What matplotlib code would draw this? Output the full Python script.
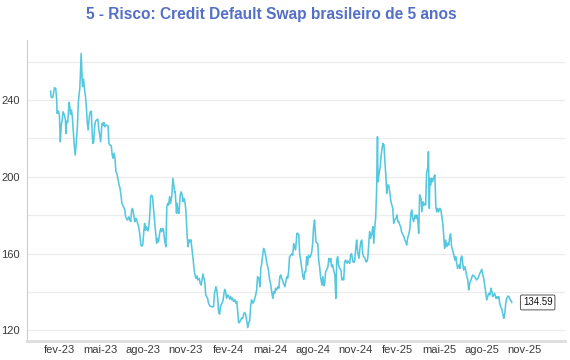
import matplotlib
matplotlib.use("Agg")
import matplotlib.pyplot as plt
import pandas as pd

plt.rcParams['font.family'] = ['Liberation Sans', 'DejaVu Sans']

title = "5 - Risco: Credit Default Swap brasileiro de 5 anos"
start_date = "2023-01-13"

# observation dates as day offsets from start_date
obs_day = [
    0, 1, 4, 6, 8, 11, 13, 14, 17, 19, 21, 23, 25, 27, 30, 32, 33, 35, 37, 40,
    42, 43, 45, 47, 49, 51, 53, 55, 58, 60, 61, 63, 64, 66, 68, 69, 71, 73, 75, 77,
    79, 81, 84, 86, 88, 89, 91, 93, 95, 97, 99, 102, 103, 104, 108, 111, 114, 115, 117, 120,
    124, 126, 128, 131, 133, 135, 137, 139, 141, 143, 146, 148, 150, 152, 154,
    160, 162, 164, 166, 169, 171, 173, 175, 177, 179, 182, 184, 186, 188, 190, 192, 195, 197, 199, 201,
    203, 205, 207, 210, 212, 214, 216, 218, 220, 223, 225, 227, 229, 231, 233, 236, 238, 240, 242, 244,
    246, 249, 251, 253, 255, 257, 259, 262, 264, 266, 268, 269, 272, 273, 275, 277, 280, 282, 284, 286,
    288, 290, 292, 295, 297, 299, 301, 303, 305, 308, 310, 312, 314, 316, 318, 321, 323, 325, 327, 329, 331,
    333, 335, 337, 339, 341, 344, 346, 348, 350, 352, 354, 357, 359, 361, 363, 365, 367, 370, 372, 374,
    376, 378, 380, 383, 385, 387, 389, 391, 393, 395, 398, 400, 402, 404, 406, 408, 411, 413, 415, 417,
    419, 421, 424, 426, 428, 430, 432, 434, 437, 439, 441, 443, 445, 447, 450, 452, 454, 456, 458, 460,
    462, 465, 467, 469, 471, 473,
    475, 478, 480, 482, 484, 486, 488, 491, 493, 495, 497, 499, 501, 503, 506, 508, 510, 512, 514, 516,
    519, 521, 523, 525, 527, 529, 532, 534, 536, 538, 540, 542, 545, 547, 549, 551, 553, 555, 557, 560,
    562, 564, 566, 568, 570, 573, 575, 577, 579, 581, 583, 586, 588, 590, 592, 594, 596, 599, 601, 603,
    605, 607, 609, 612, 614, 616, 618, 620, 622, 624, 627, 629, 631, 633,
    635, 637, 640, 642, 644, 646, 648, 650, 653, 655, 657, 659, 661, 663, 666, 668, 670, 672, 674, 676,
    679, 681, 683, 685, 687, 689, 691, 694, 696, 698, 700, 702, 704, 706, 707, 710, 712, 714, 716, 718,
    720, 722, 724, 726, 728, 730, 733, 735, 737, 739, 741, 743, 746, 748, 750, 752, 754, 756, 758, 761,
    763, 765, 767, 769, 771, 774, 776, 778, 780, 782, 784, 787, 789, 791, 793, 795,
    797, 800, 802, 804, 806, 808, 810, 812, 815, 816, 818, 819, 821, 823, 825, 828, 830, 832, 834, 836,
    838, 841, 843, 845, 847, 849, 851, 853, 856, 858, 860, 862, 864, 866, 869, 871, 873, 875, 877, 879,
    882, 884, 886, 888, 890, 892, 895, 897, 899, 901, 903, 905, 908, 910, 912, 914, 916, 918, 920, 923,
    925, 927, 929, 931, 933, 936, 938, 940, 942, 944, 946, 949, 951, 953, 955, 957, 959, 962, 964, 966,
    968, 970, 972, 975, 977, 979, 981, 983, 985, 988, 990, 992, 994, 996,
]

cds_5y = [
    244.7, 241.7, 241.2, 243.0, 246.4, 246.1, 240.9, 233.1, 234.3, 232.0, 218.3, 227.0, 229.6, 233.9, 232.0, 229.6, 222.6, 229.0, 228.5, 238.8,
    235.7, 232.6, 234.8, 231.0, 223.5, 216.6, 211.4, 216.6, 227.0, 239.1, 241.7, 246.1, 251.3, 264.3, 251.3, 247.1, 251.0, 246.0, 242.6, 237.4,
    228.7, 224.4, 232.2, 233.9, 234.3, 227.0, 217.4, 218.2, 226.1, 229.0, 229.6, 230.1, 228.0, 225.0, 218.3, 227.9, 227.0, 228.3, 226.1, 227.0,
    226.6, 217.4, 216.6, 216.2, 211.4, 209.7, 212.3, 209.7, 202.7, 201.9, 198.3, 195.7, 194.0, 190.5, 186.2,
    183.1, 179.2, 178.4, 177.5, 179.2, 177.5, 176.7, 182.7, 183.6, 181.0, 176.7, 178.4, 177.5, 175.8, 174.0, 171.4, 164.5, 163.9, 164.5, 170.6,
    175.8, 172.2, 174.0, 171.8, 174.0, 179.2, 189.7, 190.5, 189.7, 181.0, 175.8, 170.6, 165.4, 168.0, 166.2, 171.4, 173.1, 171.4, 173.1, 172.2,
    167.2, 163.6, 184.4, 186.2, 185.3, 189.7, 186.2, 190.5, 199.2, 195.7, 192.2, 192.2, 181.0, 186.2, 182.7, 181.0, 190.5, 192.2, 190.5, 187.1,
    188.8, 187.1, 182.7, 168.8, 163.6, 167.2, 166.2, 167.2, 162.9, 156.7, 151.4, 148.8, 147.1, 148.4, 146.3, 147.1, 144.5, 143.6, 146.3, 149.4, 147.1,
    145.4, 138.5, 137.6, 136.8, 134.2, 132.8, 132.5, 132.5, 132.2, 132.5, 139.3, 142.8, 141.0, 136.0, 129.3, 128.5, 132.5, 134.2, 135.1, 138.5,
    141.4, 140.2, 136.8, 138.5, 137.6, 136.3, 137.6, 136.0, 136.8, 135.1, 136.0, 134.2, 135.1, 130.1, 124.1, 124.1, 125.8, 126.6, 126.3, 128.5,
    129.4, 128.5, 124.1, 121.5, 124.1, 124.9, 132.5, 136.0, 134.2, 135.1, 136.8, 138.5, 141.1, 148.0, 147.1, 142.8, 152.3, 154.9, 159.2, 162.7,
    161.8, 158.4, 154.9, 153.2, 150.6, 146.3,
    144.5, 139.3, 136.7, 140.2, 139.3, 142.0, 141.1, 142.8, 142.0, 148.0, 148.9, 147.1, 146.3, 144.5, 142.8, 145.4, 148.0, 147.1, 150.6, 158.4,
    159.2, 160.0, 159.2, 165.3, 163.6, 161.9, 170.6, 170.6, 169.7, 159.7, 156.7, 153.2, 148.0, 146.6, 150.6, 150.6, 158.4, 154.1, 159.2, 158.0,
    159.2, 160.9, 165.3, 174.1, 177.5, 166.2, 165.7, 165.3, 156.7, 153.2, 148.0, 143.6, 148.0, 143.3, 144.5, 150.6, 151.5, 153.2, 157.5, 155.8,
    157.5, 153.2, 154.1, 150.6, 148.9, 136.7, 156.7, 158.4, 154.1, 152.4, 151.5, 146.3, 147.1, 146.3,
    155.4, 156.7, 155.0, 156.2, 155.8, 155.0, 159.3, 160.0, 155.8, 155.4, 156.7, 162.8, 167.1, 161.0, 157.6, 162.8, 166.2, 167.1, 160.0, 158.4,
    157.6, 155.8, 155.8, 157.6, 164.5, 171.4, 168.0, 170.6, 174.1, 165.4, 173.2, 178.4, 192.3, 220.9, 197.4, 202.7, 205.3, 211.4, 214.9, 217.4,
    216.5, 207.9, 201.0, 191.4, 195.7, 195.7, 191.4, 187.1, 185.4, 183.6, 175.8, 177.6, 178.4, 180.1, 176.7, 176.7, 175.0, 174.1, 171.4, 169.7,
    168.9, 167.1, 166.2, 164.5, 168.0, 170.6, 173.2, 181.0, 182.7, 178.4, 176.7, 180.1, 178.4, 180.1, 177.6, 170.6,
    190.6, 188.8, 181.8, 187.0, 185.3, 186.2, 185.3, 201.8, 205.3, 213.1, 183.6, 199.2, 195.7, 199.2, 197.5, 200.1, 201.0, 184.4, 181.8, 183.6,
    181.8, 183.6, 182.7, 179.2, 175.8, 168.9, 162.8, 167.1, 163.7, 165.4, 164.5, 168.9, 170.3, 163.7, 161.1, 159.3, 156.7, 158.4, 155.0, 152.3,
    154.1, 152.3, 157.6, 158.8, 155.0, 151.5, 153.2, 150.7, 148.0, 146.3, 141.1, 144.5, 146.3, 148.0, 148.9, 148.4, 148.0, 147.1, 146.3, 147.1,
    148.4, 149.7, 150.6, 151.8, 149.7, 146.3, 142.8, 139.3, 135.9, 137.6, 139.3, 138.5, 142.0, 140.2, 137.6, 138.5, 139.3, 136.7, 137.6, 136.7,
    137.6, 134.1, 132.4, 130.7, 128.1, 126.3, 128.9, 134.1, 136.7, 137.9, 137.6, 136.3, 135.6, 134.59,
]

tick_dates = ["2023-02-01", "2023-05-01", "2023-08-01", "2023-11-01",
              "2024-02-01", "2024-05-01", "2024-08-01", "2024-11-01",
              "2025-02-01", "2025-05-01", "2025-08-01", "2025-11-01"]
tick_labels = ["fev-23", "mai-23", "ago-23", "nov-23", "fev-24", "mai-24",
               "ago-24", "nov-24", "fev-25", "mai-25", "ago-25", "nov-25"]
y_ticks = [120, 160, 200, 240]
y_grid = [120, 140, 160, 180, 200, 220, 240, 260]

dates = pd.Timestamp(start_date) + pd.to_timedelta(obs_day, unit="D")

fig = plt.figure(figsize=(5.7, 3.6), dpi=100)
ax = fig.add_axes([27/570, 1 - 341/360, (565 - 27)/570, (341 - 40)/360])

line_color = "#55c8e0"
ax.plot(dates, cds_5y, color=line_color, lw=1.15, solid_joinstyle="round")

for g in y_grid:
    ax.axhline(g, color="#ececec", lw=0.9, zorder=0)

ax.set_ylim(114.5, 271.3)
ax.set_xlim(pd.Timestamp("2022-11-23"), pd.Timestamp("2026-01-28"))

ax.set_yticks(y_ticks)
ax.set_yticklabels([str(v) for v in y_ticks])
ax.set_xticks(pd.to_datetime(tick_dates))
ax.set_xticklabels(tick_labels)
ax.tick_params(axis="both", length=0, labelsize=8, labelcolor="#3a3a3a")
ax.tick_params(axis="y", pad=5)
ax.tick_params(axis="x", pad=3)

for s in ["top", "right"]:
    ax.spines[s].set_visible(False)
ax.spines["left"].set_color("#cccccc")
ax.spines["left"].set_linewidth(0.8)
ax.spines["bottom"].set_color("#dddddd")
ax.spines["bottom"].set_linewidth(2.0)

last_val = cds_5y[-1]
ax.annotate(f"{last_val:.2f}", xy=(dates[-1], last_val), xytext=(8, 0),
            textcoords="offset points", ha="left", va="center", fontsize=7,
            color="#111111",
            bbox=dict(boxstyle="round,pad=0.25,rounding_size=0.15",
                      fc="white", ec="#555555", lw=0.7))

fig.text(271/570, 1 - 15/360, title, ha="center", va="center",
         fontsize=11.2, fontweight="bold", color="#5470c6")

fig.savefig("out.png", dpi=100)
